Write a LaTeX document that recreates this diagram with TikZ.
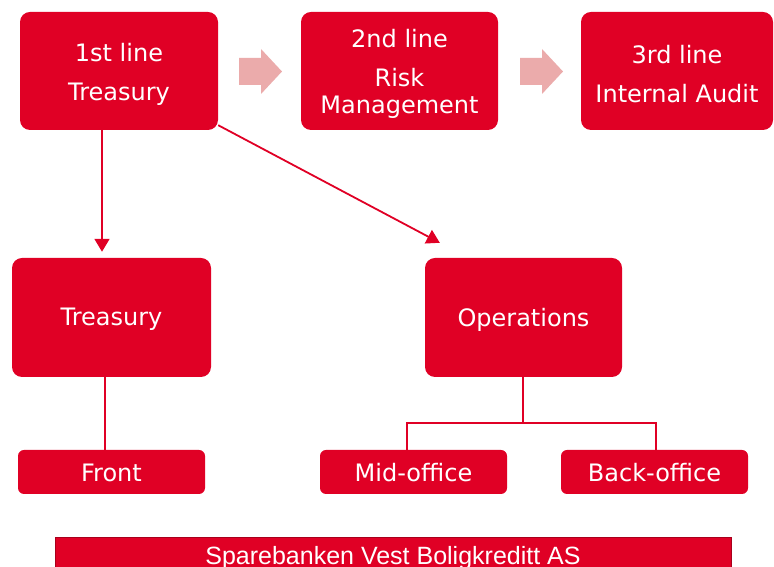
\documentclass[tikz,border=0pt]{standalone}
\usepackage{fontspec}
\setmainfont{DejaVu Sans}
\newfontfamily\barfont{Liberation Sans}
\usetikzlibrary{arrows.meta}
\definecolor{bred}{HTML}{E00025}
\definecolor{bpink}{HTML}{EBABAB}
\definecolor{bdark}{HTML}{A8001C}
\begin{document}
\begin{tikzpicture}[x=1pt,y=1pt,
  bigbox/.style={fill=bred, rounded corners=10pt, inner sep=0pt},
  smallbox/.style={fill=bred, rounded corners=6pt, inner sep=0pt, minimum width=187pt, minimum height=44pt},
  boxtext/.style={text=white, align=center, font=\fontsize{24}{27}\selectfont, inner sep=0pt},
  conn/.style={draw=bred, line width=1.8pt},
  arr/.style={conn, -{Triangle[length=13pt,width=15pt]}},
  pinkarrow/.style={fill=bpink}
]
\useasboundingbox (0,0) rectangle (774,567);

% top row
\node[bigbox, minimum width=198pt, minimum height=118pt] (l1) at (119,496) {};
\node[boxtext] (l1t) at ([yshift=-3pt]l1.center) {1st line\\[12pt]Treasury};
\node[bigbox, minimum width=197pt, minimum height=118pt] (l2) at (399.5,496) {};
\node[boxtext] (l2t) at ([yshift=-3pt]l2.center) {2nd line\\[12pt]Risk\\Management};
\node[bigbox, minimum width=192pt, minimum height=118pt] (l3) at (677,496) {};
\node[boxtext] (l3t) at ([yshift=-3pt]l3.center) {3rd line\\[12pt]Internal Audit};

% pink arrows
\fill[pinkarrow] (239,509) -- (261,509) -- (261,518) -- (282,495.5) -- (261,473) -- (261,482) -- (239,482) -- cycle;
\fill[pinkarrow] (520,509) -- (542,509) -- (542,518) -- (563,495.5) -- (542,473) -- (542,482) -- (520,482) -- cycle;

% middle row
\node[bigbox, minimum width=199pt, minimum height=119pt] (tre) at (111.5,249.5) {};
\node[boxtext] (tret) at ([yshift=-2pt]tre.center) {Treasury};
\node[bigbox, minimum width=197pt, minimum height=119pt] (ops) at (523.5,249.5) {};
\node[boxtext] (opst) at ([yshift=-2pt]ops.center) {Operations};

% bottom row
\node[smallbox] (fr) at (111.5,95) {};
\node[boxtext] (frt) at ([yshift=-1pt]fr.center) {Front};
\node[smallbox] (mid) at (413.5,95) {};
\node[boxtext] (midt) at ([yshift=-1pt]mid.center) {Mid-office};
\node[smallbox] (back) at (654.5,95) {};
\node[boxtext] (backt) at ([yshift=-1pt]back.center) {Back-office};

% connectors
\draw[arr, shorten >=6pt] ([xshift=-17pt]l1.south) -- ([xshift=-17pt]l1.south |- tre.north);
\draw[arr] ([yshift=5pt]l1.south east) -- ([shift={(15pt,15pt)}]ops.north west);
\draw[conn] ([xshift=-6.5pt]tre.south) -- ([xshift=-6.5pt]fr.north);
\coordinate (j) at ([shift={(-0.5pt,-46pt)}]ops.south);
\draw[conn] ([xshift=-0.5pt]ops.south) -- (j);
\draw[conn] ([xshift=-6.5pt]mid.north) |- (j) -| ([xshift=1.5pt]back.north);

% bottom bar
\node[fill=bred, draw=bdark, line width=1pt, minimum width=676pt, minimum height=34pt,
  inner sep=0pt, anchor=north west] (bar) at (55,30) {};
\node[text=white, font=\barfont\fontsize{25}{28}\selectfont, anchor=base, inner sep=0pt] (bartext)
  at (393,2) {Sparebanken Vest Boligkreditt AS};
\end{tikzpicture}
\end{document}
